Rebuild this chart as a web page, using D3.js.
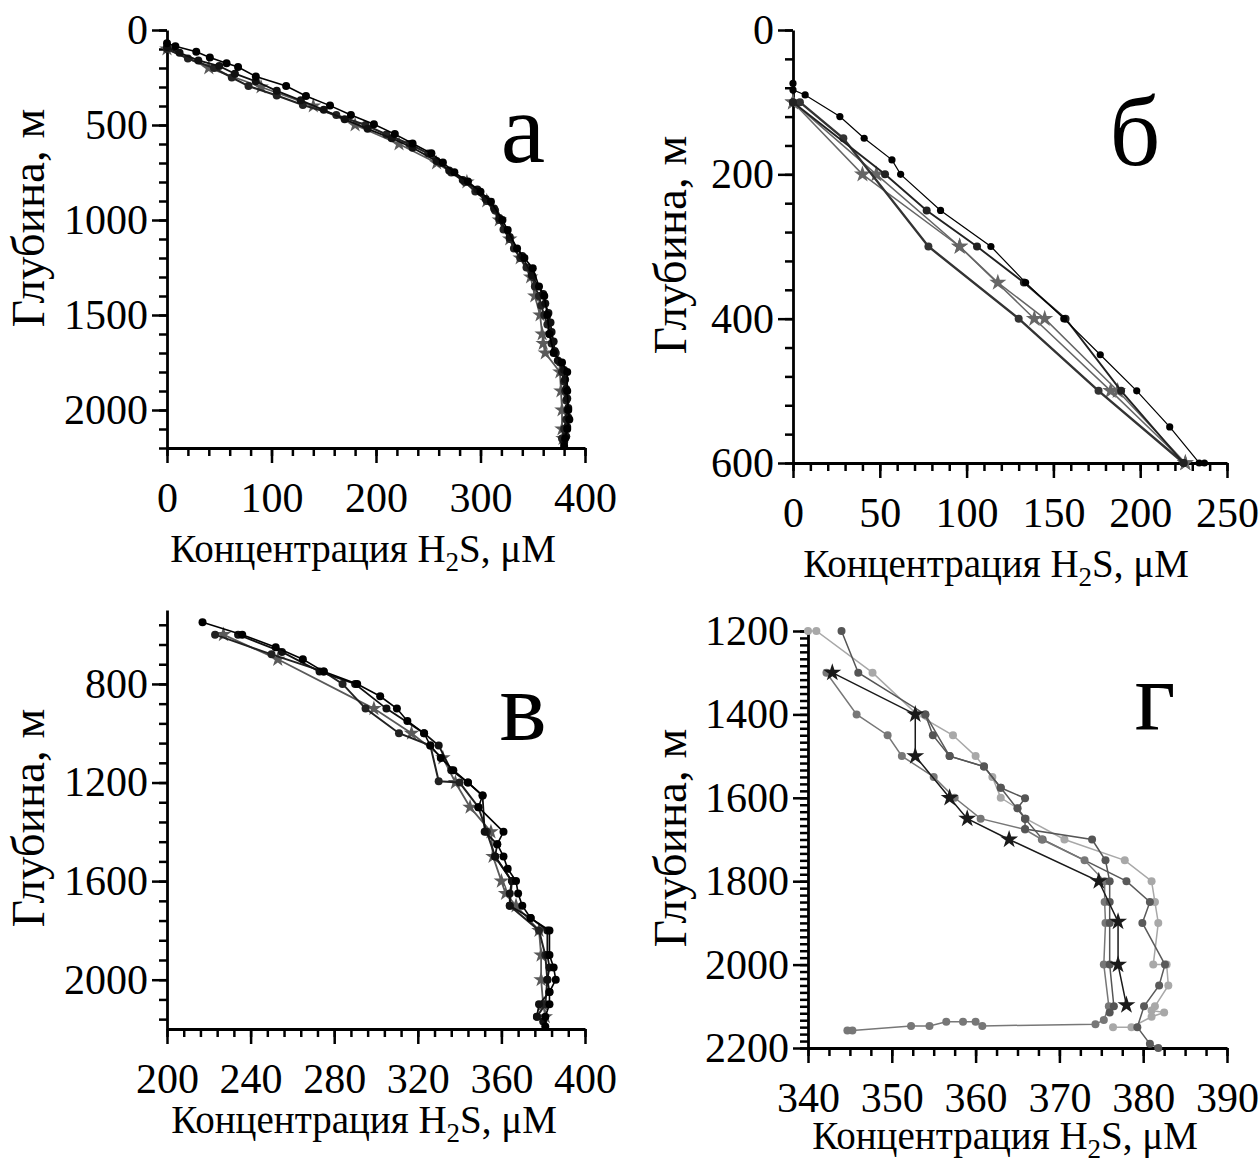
<!DOCTYPE html>
<html>
<head>
<meta charset="utf-8">
<script src="https://cdn.jsdelivr.net/npm/d3@7"></script>
<style>
  body { margin: 0; background: #fff; }
  svg { display: block; }
</style>
</head>
<body>
<div id="chart"></div>
<script>
// ---- data: [concentration uM, depth m] ----

// panel a
var a1 = [[0,70],[8,85],[28,115],[41,145],[57,175],[68,195],[85,245],[114,295],[133,347],[156,398],[176,447],[198,496],[218,548],[235,597],[253,649],[264,698],[275,749],[288,798],[300,851],[310,904],[321,1000],[326,1053],[335,1150],[342,1200],[350,1254],[356,1350],[361,1400],[364,1500],[366,1600],[370,1700],[378,1750],[383,1800],[383,1900],[384,2000],[385,2050],[383,2100],[381,2150],[380,2190]];
var a2 = [[0,100],[20,150],[45,200],[62,250],[78,295],[105,345],[130,395],[162,447],[190,500],[210,550],[232,600],[250,650],[262,700],[272,750],[285,800],[295,850],[306,900],[314,950],[318,1000],[322,1050],[328,1100],[332,1150],[338,1200],[344,1250],[350,1300],[352,1350],[356,1400],[358,1450],[361,1500],[364,1550],[366,1600],[368,1650],[372,1700],[376,1750],[378,1800],[380,1850],[381,1900],[382,1950],[383,2000],[382,2050],[380,2100],[378,2150]];
var a3 = [[0,100],[40,200],[90,300],[140,400],[180,500],[222,600],[258,700],[287,800],[306,900],[318,1000],[328,1100],[338,1200],[348,1300],[352,1400],[357,1500],[359,1600],[360,1650],[362,1700],[376,1800],[377,1900],[378,2000],[378,2100],[379,2150]];
var a4 = [[0,90],[12,120],[30,160],[50,190],[65,230],[85,270],[105,320],[128,370],[150,420],[170,470],[192,520],[215,570],[235,620],[258,690],[270,740],[283,790],[297,840],[305,890],[313,940],[318,990],[328,1090],[340,1190],[349,1290],[360,1390],[362,1440],[365,1490],[367,1540],[368,1590],[370,1640],[371,1690],[374,1740],[380,1790],[381,1840],[382,1890],[383,1940],[384,1990],[384,2040],[383,2090],[382,2140],[380,2170]];

// panel b
var b1 = [[0,74],[0,83],[7,90],[27,120],[41,150],[57,180],[62,200],[85,250],[114,300],[134,350],[156,400],[177,450],[198,500],[217,550],[234,600],[237,600]];
var b2 = [[0,100],[4,100],[29,150],[78,300],[130,400],[176,500],[225,600]];
var b3 = [[0,100],[53,200],[77,250],[106,300],[133,350],[157,400],[189,500],[225,600]];
var b4 = [[0,100],[40,200],[96,300],[139,400],[183,500],[226,600]];
var b5 = [[0,100],[48,200],[96,300],[118,350],[145,400],[187,500],[226,600]];

// panel v
var v1 = [[217,550],[236,600],[252,651],[265,700],[275,750],[291,800],[302,850],[310,900],[315,950],[323,1000],[326,1050],[331,1100],[337,1150],[344,1200],[351,1253],[349,1300],[361,1400],[358,1450],[361,1500],[363,1550],[367,1600],[368,1650],[370,1700],[374,1750],[383,1800],[383,1900],[385,1950],[386,2000],[383,2050],[383,2100],[381,2150],[381,2190]];
var v2 = [[223,600],[250,680],[275,750],[284,800],[295,900],[311,1000],[326,1050],[330,1195],[340,1200],[349,1300],[353,1400],[357,1500],[365,1600],[364,1700],[378,1800],[381,1900],[382,2000],[381,2100],[377,2150]];
var v3 = [[227,600],[253,700],[299,900],[317,1000],[332,1100],[338,1200],[345,1300],[355,1400],[356,1500],[360,1600],[362,1650],[367,1700],[378,1800],[379,1900],[379,2000],[380,2100],[381,2150]];
var v4 = [[234,600],[255,670],[273,750],[290,800],[305,900],[323,1000],[330,1050],[336,1150],[344,1200],[351,1253],[352,1400],[358,1450],[357,1500],[365,1600],[364,1650],[364,1700],[374,1750],[382,1800],[382,1900],[383,1950],[382,2000],[383,2050],[378,2100],[377,2150],[380,2170]];

// panel g
var gLight = [[340,1200],[341,1200],[347.7,1300],[353,1400],[357.3,1450],[360,1500],[362,1550],[363,1600],[365,1625],[366,1650],[370.6,1700],[377.8,1750],[381,1800],[381.4,1850],[381.8,1900],[381.2,2000],[382.8,2000],[383,2050],[381.4,2100],[381,2110],[382.5,2115],[381,2125],[378.6,2150],[376.4,2150]];
var gMid = [[342.2,1300],[345.8,1400],[349.5,1450],[351.2,1500],[355,1550],[357.5,1600],[360.6,1650],[365.9,1676],[367.9,1700],[373,1750],[375.4,1800],[375.4,1850],[375.5,1900],[375.3,2000],[375.9,2100],[375.3,2133],[374.3,2143],[360.8,2147],[360,2137],[358.5,2137],[356.5,2137],[354.5,2147],[352.3,2147],[345.3,2158],[344.7,2158]];
var gDark = [[344,1200],[346,1300],[354,1400],[354.9,1450],[356.9,1500],[361,1525],[363,1576],[365.9,1601],[365,1625],[365.9,1650],[365.9,1675],[373.9,1700],[375.5,1750],[376,1800],[376,1850],[376,1900],[376,2000],[376.5,2100],[376,2115]];
var gRight = [[354,1400],[356.9,1500],[361,1525],[363,1576],[365.9,1650],[368,1700],[378,1800],[380.8,1850],[379.9,1900],[382.6,2000],[381.9,2050],[380.1,2100],[379.3,2150],[380.8,2190],[381.8,2200]];
var gStar = [[342.9,1300],[352.8,1400],[352.8,1500],[356.9,1600],[359,1650],[364,1700],[374.7,1800],[377,1897],[377,2000],[378,2097]];

var FONT = "'Liberation Serif','Times New Roman',serif";

var svg = d3.select("#chart").append("svg")
    .attr("width", 1260)
    .attr("height", 1168);

/**
 * Draws one panel: axes, minor ticks, profiles and the panel letter.
 */
function drawPanel(cfg){
    var x = d3.scaleLinear().domain(cfg.xd).range(cfg.xr);
    var y = d3.scaleLinear().domain(cfg.yd).range(cfg.yr);
    var g = svg.append("g");

    var xMinor = d3.range(Math.ceil(cfg.xd[0]/cfg.xMin - 1e-6)*cfg.xMin, cfg.xd[1] + 1e-6, cfg.xMin);
    var yMinor = d3.range(0, 1000).map(function(i){ return cfg.yd[0] + i*cfg.yMin; })
        .filter(function(v){ return v <= cfg.yd[1] + 1e-6; });
    if (cfg.yMinorFrom0) {
        yMinor = d3.range(Math.ceil(cfg.yd[0]/cfg.yMin)*cfg.yMin, cfg.yd[1] + 1e-6, cfg.yMin);
    }

    // minor ticks
    g.append("g")
        .attr("transform", "translate(0," + cfg.yr[1] + ")")
        .call(d3.axisBottom(x).tickValues(xMinor).tickSize(8).tickFormat(""))
        .call(function(s){ s.select(".domain").remove(); });
    g.append("g")
        .attr("transform", "translate(" + cfg.xr[0] + ",0)")
        .call(d3.axisLeft(y).tickValues(yMinor).tickSize(8).tickFormat(""))
        .call(function(s){ s.select(".domain").remove(); });

    // major ticks + labels
    var xa = g.append("g")
        .attr("transform", "translate(0," + cfg.yr[1] + ")")
        .call(d3.axisBottom(x).tickValues(cfg.xMaj).tickSize(15).tickSizeOuter(0).tickPadding(19).tickFormat(d3.format("d")));
    var ya = g.append("g")
        .attr("transform", "translate(" + cfg.xr[0] + ",0)")
        .call(d3.axisLeft(y).tickValues(cfg.yMaj).tickSize(15).tickSizeOuter(0).tickPadding(4).tickFormat(d3.format("d")));

    [xa, ya].forEach(function(a){
        a.attr("font-family", FONT).attr("font-size", 42);
        a.selectAll("line").attr("stroke", "#000").attr("stroke-width", 2.5);
        a.selectAll(".domain").attr("stroke", "#000").attr("stroke-width", 2.8);
        a.selectAll("text").attr("fill", "#000");
    });
    g.selectAll("line").attr("stroke", "#000").attr("stroke-width", 2.5);

    // axis titles
    var xt = g.append("text")
        .attr("x", cfg.xTitle[0]).attr("y", cfg.xTitle[1])
        .attr("text-anchor", "middle")
        .attr("font-family", FONT).attr("font-size", 39);
    xt.append("tspan").text("Концентрация H");
    xt.append("tspan").attr("font-size", 27).attr("dy", 9).text("2");
    xt.append("tspan").attr("dy", -9).text("S, μM");

    g.append("text")
        .attr("transform", "translate(" + cfg.yTitle[0] + "," + cfg.yTitle[1] + ") rotate(-90)")
        .attr("text-anchor", "middle")
        .attr("font-family", FONT).attr("font-size", 47)
        .text("Глубина, м");

    // panel letter
    g.append("text")
        .attr("x", cfg.letter[0]).attr("y", cfg.letter[1])
        .attr("text-anchor", "middle")
        .attr("font-family", FONT).attr("font-size", 100)
        .text(cfg.letterText);

    var line = d3.line()
        .x(function(d){ return x(d[0]); })
        .y(function(d){ return y(d[1]); });

    cfg.series.forEach(function(s){
        g.append("path")
            .datum(s.data)
            .attr("d", line)
            .attr("fill", "none")
            .attr("stroke", s.color)
            .attr("stroke-width", s.width || 1.5);

        if (s.star) {
            g.selectAll(null)
                .data(s.data)
                .enter().append("path")
                .attr("d", d3.symbol().type(d3.symbolStar).size(s.size || 75))
                .attr("transform", function(d){ return "translate(" + x(d[0]) + "," + y(d[1]) + ")"; })
                .attr("fill", s.color);
        } else {
            g.selectAll(null)
                .data(s.data)
                .enter().append("circle")
                .attr("cx", function(d){ return x(d[0]); })
                .attr("cy", function(d){ return y(d[1]); })
                .attr("r", s.r || 4)
                .attr("fill", s.color);
        }
    });
}

drawPanel({
    xd: [0, 400], xr: [167, 585], yd: [0, 2200], yr: [30, 448],
    xMaj: [0, 100, 200, 300, 400], xMin: 20,
    yMaj: [0, 500, 1000, 1500, 2000], yMin: 100,
    xTitle: [363, 562], yTitle: [44, 218],
    letter: [523, 162], letterText: "а",
    series: [
        {data: a3, color: "#5a5a5a", star: true, width: 1.8},
        {data: a2, color: "#222", width: 2},
        {data: a4, color: "#111", width: 1.8},
        {data: a1, color: "#000", width: 1.6}
    ]
});

drawPanel({
    xd: [0, 250], xr: [793, 1227], yd: [0, 600], yr: [30, 463],
    xMaj: [0, 50, 100, 150, 200, 250], xMin: 10,
    yMaj: [0, 200, 400, 600], yMin: 40,
    xTitle: [996, 577], yTitle: [686, 245],
    letter: [1135, 165], letterText: "б",
    series: [
        {data: b4, color: "#666", star: true, width: 1.5, size: 90},
        {data: b5, color: "#666", star: true, width: 1.5, size: 90},
        {data: b2, color: "#333", width: 2.4},
        {data: b3, color: "#222", width: 1.9},
        {data: b1, color: "#000", width: 1.2, r: 3.6}
    ]
});

drawPanel({
    xd: [200, 400], xr: [167, 585], yd: [500, 2200], yr: [610, 1029],
    xMaj: [200, 240, 280, 320, 360, 400], xMin: 8,
    yMaj: [800, 1200, 1600, 2000], yMin: 80, yMinorFrom0: true,
    xTitle: [364, 1133], yTitle: [44, 818],
    letter: [523, 740], letterText: "в",
    series: [
        {data: v3, color: "#5a5a5a", star: true, width: 1.8},
        {data: v2, color: "#222", width: 2},
        {data: v4, color: "#111", width: 1.8},
        {data: v1, color: "#000", width: 1.6}
    ]
});

drawPanel({
    xd: [340, 390], xr: [808, 1227], yd: [1200, 2200], yr: [631, 1048],
    xMaj: [340, 350, 360, 370, 380, 390], xMin: 2.5,
    yMaj: [1200, 1400, 1600, 1800, 2000, 2200], yMin: 200/12,
    xTitle: [1005, 1149], yTitle: [686, 838],
    letter: [1155, 730], letterText: "г",
    series: [
        {data: gLight, color: "#a8a8a8", width: 1.5},
        {data: gRight, color: "#5a5a5a", width: 1.5},
        {data: gMid, color: "#777", width: 1.5},
        {data: gDark, color: "#555", width: 1.5},
        {data: gStar, color: "#1a1a1a", star: true, width: 1.5, size: 100}
    ]
});
</script>
</body>
</html>
